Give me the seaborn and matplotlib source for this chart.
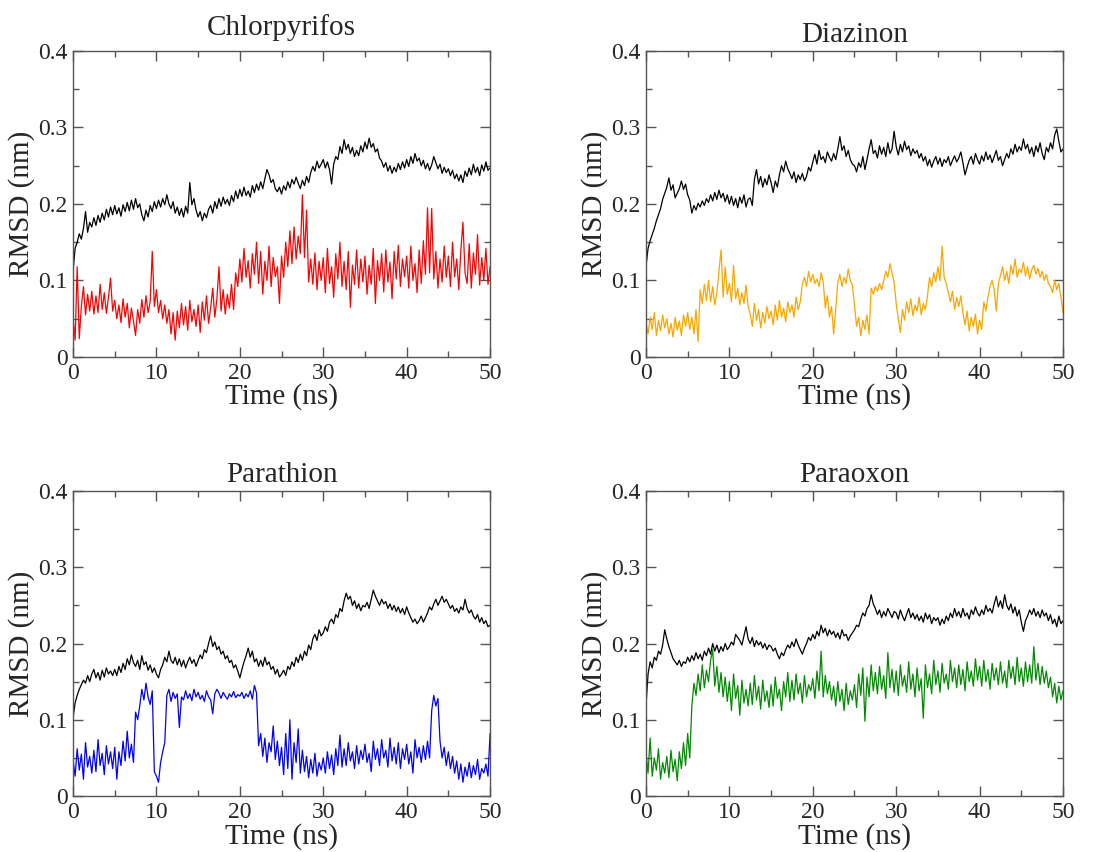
import numpy as np
import matplotlib
matplotlib.use("Agg")
import matplotlib.pyplot as plt
import seaborn as sb

# RMSD values, in units of 0.001 nm, one point every 0.25 ns (0..50 ns)
time_ns = np.linspace(0, 50, 201)

chlorpyrifos_protein = [
    112, 142, 150, 161, 154, 168, 190, 163, 176, 170,
    182, 172, 185, 176, 188, 179, 193, 183, 196, 186,
    198, 187, 195, 184, 199, 190, 202, 191, 205, 193,
    207, 195, 200, 186, 178, 192, 183, 198, 190, 203,
    194, 205, 196, 207, 199, 212, 200, 194, 203, 188,
    196, 185, 194, 183, 197, 188, 228, 199, 207, 192,
    183, 190, 178, 188, 182, 193, 198, 188, 203, 194,
    207, 197, 209, 200, 206, 198, 211, 203, 217, 207,
    219, 210, 222, 211, 217, 209, 224, 215, 226, 218,
    229, 220, 233, 245, 238, 228, 232, 220, 216, 222,
    213, 224, 218, 229, 221, 232, 226, 235, 227, 220,
    231, 224, 236, 228, 241, 249, 243, 256, 247, 252,
    258, 247, 255, 245, 226, 252, 262, 258, 275, 266,
    284, 271, 278, 266, 274, 262, 270, 263, 276, 268,
    281, 272, 286, 274, 279, 268, 272, 260, 256, 248,
    254, 243, 250, 240, 248, 242, 253, 245, 255, 247,
    258, 249, 262, 253, 266, 256, 260, 250, 257, 246,
    253, 244, 251, 262, 254, 246, 252, 240, 248, 241,
    246, 237, 244, 233, 239, 230, 238, 228, 243, 236,
    247, 238, 252, 241, 248, 237, 251, 243, 255, 244,
    247]
chlorpyrifos_ligand = [
    52, 22, 118, 24, 66, 92, 55, 82, 60, 86,
    56, 80, 58, 95, 62, 84, 57, 78, 103, 60,
    74, 50, 68, 45, 76, 52, 70, 38, 64, 47,
    28, 62, 44, 75, 52, 80, 58, 72, 138, 66,
    88, 58, 74, 50, 68, 44, 62, 30, 58, 22,
    60, 38, 70, 42, 66, 35, 74, 46, 62, 40,
    68, 32, 72, 48, 80, 44, 64, 90, 52, 76,
    118, 60, 88, 56, 82, 64, 95, 62, 110, 92,
    128, 98, 142, 104, 126, 90, 135, 108, 150, 96,
    138, 82, 125, 100, 145, 92, 130, 105, 118, 70,
    132, 104, 150, 118, 165, 122, 170, 128, 158, 135,
    212, 130, 192, 98, 128, 95, 136, 88, 125, 100,
    130, 84, 142, 96, 118, 78, 135, 102, 150, 92,
    125, 88, 138, 65, 120, 95, 140, 90, 128, 98,
    132, 82, 120, 95, 142, 70, 126, 100, 135, 85,
    140, 98, 124, 76, 138, 102, 146, 92, 128, 105,
    132, 90, 145, 100, 122, 84, 140, 96, 152, 108,
    195, 110, 194, 102, 138, 90, 128, 98, 145, 104,
    132, 92, 150, 105, 128, 88, 140, 176, 110, 96,
    148, 90, 136, 108, 160, 94, 130, 100, 142, 95,
    118]

diazinon_protein = [
    118, 142, 152, 160, 168, 178, 186, 194, 206, 214,
    222, 234, 218, 225, 208, 214, 220, 230, 219, 226,
    212, 205, 188, 198, 192, 201, 196, 204, 198, 207,
    202, 212, 204, 215, 206, 218, 208, 214, 203, 212,
    200, 210, 198, 207, 195, 209, 201, 212, 196, 206,
    208, 198, 232, 245, 226, 236, 222, 233, 225, 238,
    228, 215, 230, 222, 238, 250, 242, 256, 246, 240,
    233, 242, 228, 238, 232, 240, 230, 236, 248, 243,
    255, 265, 252, 270, 258, 262, 254, 268, 261, 256,
    266, 258, 272, 288, 270, 276, 262, 270, 258, 252,
    250, 242, 254, 248, 262, 245, 258, 272, 284, 266,
    270, 260, 276, 265, 274, 262, 280, 266, 272, 295,
    275, 264, 278, 268, 282, 271, 276, 263, 272, 266,
    270, 260, 266, 256, 262, 250, 258, 248, 256, 262,
    252, 260, 249, 258, 254, 262, 250, 257, 263, 255,
    260, 268, 254, 238, 248, 257, 262, 252, 266, 258,
    252, 263, 256, 268, 258, 264, 254, 262, 270, 257,
    262, 250, 258, 266, 260, 272, 265, 278, 268, 275,
    270, 285, 272, 278, 266, 274, 262, 276, 268, 280,
    266, 258, 274, 268, 280, 272, 290, 298, 282, 268,
    272]
diazinon_ligand = [
    45, 30, 52, 36, 58, 28, 48, 34, 55, 38,
    50, 30, 44, 26, 52, 35, 47, 28, 55, 40,
    58, 36, 52, 30, 62, 20, 88, 70, 95, 74,
    100, 72, 92, 68, 84, 112, 140, 78, 118, 82,
    96, 72, 120, 76, 90, 68, 84, 70, 94, 66,
    56, 40, 70, 48, 62, 38, 58, 44, 66, 50,
    60, 42, 68, 48, 74, 52, 64, 46, 72, 58,
    68, 52, 78, 62, 72, 96, 104, 92, 112, 98,
    108, 96, 102, 92, 110, 98, 64, 80, 52, 66,
    30, 62, 98, 108, 92, 104, 96, 115, 100, 94,
    68, 40, 52, 28, 48, 36, 55, 30, 90, 82,
    92, 86, 96, 88, 100, 112, 104, 122, 110, 98,
    70, 50, 32, 62, 48, 72, 58, 76, 54, 68,
    60, 78, 55, 70, 62, 80, 104, 92, 110, 98,
    118, 100, 145, 104, 96, 84, 72, 86, 62, 78,
    66, 80, 58, 42, 60, 34, 52, 40, 56, 30,
    48, 36, 72, 60, 78, 92, 100, 88, 60, 96,
    106, 118, 100, 112, 96, 120, 108, 128, 104, 115,
    110, 124, 106, 118, 102, 114, 120, 108, 116, 104,
    112, 100, 108, 96, 92, 84, 100, 88, 96, 78,
    58]

parathion_protein = [
    102, 122, 132, 140, 146, 152, 148, 158, 150, 160,
    166, 155, 162, 152, 165, 156, 168, 160, 164, 158,
    166, 158, 170, 162, 174, 166, 180, 172, 185, 175,
    170, 178, 166, 184, 172, 176, 165, 172, 162, 168,
    160, 155, 166, 172, 182, 176, 190, 178, 174, 182,
    172, 180, 170, 178, 168, 176, 182, 174, 179, 170,
    178, 185, 180, 192, 188, 200, 210, 196, 202, 192,
    196, 186, 190, 180, 184, 175, 178, 168, 172, 164,
    155, 166, 176, 184, 194, 182, 190, 176, 180, 170,
    178, 170, 182, 172, 176, 166, 170, 160, 166, 156,
    160, 165, 158, 170, 166, 176, 170, 182, 175, 186,
    178, 190, 184, 198, 192, 206, 212, 204, 218, 210,
    214, 222, 216, 228, 232, 226, 238, 234, 246, 242,
    256, 266, 258, 262, 250, 256, 246, 252, 243, 250,
    248, 254, 246, 258, 270, 262, 256, 250, 258, 252,
    255, 246, 252, 244, 250, 242, 248, 240, 246, 238,
    248, 240, 234, 228, 232, 226, 230, 236, 228, 234,
    240, 248, 244, 252, 258, 250, 256, 262, 254, 258,
    252, 246, 250, 242, 246, 240, 248, 244, 258, 246,
    240, 244, 236, 232, 238, 228, 234, 226, 230, 222,
    224]
parathion_ligand = [
    48, 26, 62, 34, 55, 22, 70, 38, 52, 30,
    60, 32, 74, 40, 56, 28, 66, 42, 58, 36,
    64, 22, 58, 40, 72, 46, 85, 50, 68, 44,
    110, 100, 118, 140, 126, 148, 130, 120, 138, 32,
    26, 18, 44, 58, 70, 132, 140, 124, 136, 128,
    134, 90, 130, 126, 138, 128, 134, 125, 140, 130,
    136, 127, 132, 124, 138, 130, 126, 108, 134, 140,
    135, 128, 136, 131, 127, 134, 130, 137, 129, 133,
    131, 136, 128, 134, 130, 138, 127, 145, 135, 66,
    82, 52, 76, 44, 70, 58, 92, 48, 72, 40,
    64, 28, 82, 36, 100, 22, 70, 44, 88, 30,
    60, 32, 52, 24, 48, 30, 56, 26, 44, 34,
    50, 30, 58, 36, 54, 28, 62, 40, 80, 38,
    62, 40, 70, 46, 58, 36, 66, 42, 60, 48,
    68, 44, 56, 32, 72, 48, 62, 40, 74, 50,
    60, 38, 76, 46, 64, 42, 70, 36, 62, 48,
    68, 42, 58, 30, 74, 50, 64, 44, 66, 48,
    72, 50, 112, 132, 118, 128, 72, 50, 64, 40,
    58, 36, 52, 30, 46, 22, 42, 18, 38, 26,
    44, 24, 40, 28, 48, 22, 36, 30, 42, 26,
    82]

paraoxon_protein = [
    118, 160, 176, 168, 182, 178, 190, 186, 198, 218,
    206, 196, 188, 180, 176, 172, 178, 170, 176, 174,
    182, 176, 184, 178, 188, 180, 186, 178, 190, 184,
    194, 186, 200, 190, 198, 188, 196, 190, 200, 192,
    196, 202, 198, 212, 208, 204, 198, 210, 222, 206,
    200, 208, 196, 204, 198, 202, 194, 200, 192, 198,
    196, 190, 194, 186, 180, 188, 184, 192, 198, 194,
    202, 196, 206, 198, 192, 186, 194, 200, 208, 204,
    212, 206, 216, 210, 224, 214, 220, 210, 218, 212,
    216, 208, 214, 206, 218, 210, 212, 204, 210, 214,
    218, 224, 222, 232, 240, 236, 246, 250, 264, 252,
    246, 238, 244, 234, 242, 236, 246, 240, 234, 242,
    240, 232, 244, 236, 230, 238, 246, 234, 240, 232,
    238, 230, 236, 228, 240, 232, 238, 226, 234, 230,
    234, 224, 232, 226, 236, 230, 240, 234, 246, 236,
    242, 234, 246, 236, 240, 232, 244, 238, 248, 240,
    236, 244, 238, 250, 242, 246, 240, 252, 262, 248,
    256, 246, 264, 250, 244, 252, 240, 248, 236, 244,
    228, 216, 230, 236, 244, 238, 246, 236, 242, 234,
    244, 236, 240, 230, 238, 226, 232, 222, 236, 226,
    230]
paraoxon_ligand = [
    58, 30, 76, 26, 50, 34, 62, 22, 44, 30,
    52, 24, 60, 32, 48, 20, 58, 36, 70, 40,
    82, 50, 118, 148, 132, 160, 138, 172, 142, 165,
    150, 178, 192, 144, 170, 136, 162, 130, 156, 124,
    150, 112, 160, 128, 145, 106, 152, 122, 140, 118,
    148, 120, 158, 126, 144, 114, 152, 124, 138, 116,
    146, 118, 156, 128, 140, 112, 150, 130, 162, 124,
    152, 126, 160, 134, 148, 122, 158, 130, 146, 138,
    154, 128, 164, 138, 190, 130, 158, 134, 150, 126,
    144, 118, 150, 124, 140, 112, 148, 120, 138, 126,
    146, 116, 160, 132, 168, 98, 156, 130, 172, 138,
    162, 134, 170, 140, 158, 128, 188, 142, 166, 136,
    164, 132, 172, 144, 158, 136, 176, 140, 160, 130,
    168, 138, 154, 102, 172, 142, 160, 134, 178, 146,
    164, 136, 174, 148, 160, 140, 178, 150, 168, 142,
    172, 146, 166, 138, 176, 150, 164, 144, 180, 152,
    170, 144, 178, 150, 166, 140, 174, 152, 168, 146,
    176, 148, 164, 142, 178, 154, 170, 146, 182, 150,
    168, 144, 176, 150, 172, 148, 196, 152, 174, 146,
    170, 148, 164, 142, 156, 130, 148, 122, 144, 126,
    138]

titles = ['Chlorpyrifos', 'Diazinon', 'Parathion', 'Paraoxon']
ligand_colors = ['#ff0000', '#ffa500', '#0000ff', '#008b00']
protein_series = [chlorpyrifos_protein, diazinon_protein, parathion_protein, paraoxon_protein]
ligand_series = [chlorpyrifos_ligand, diazinon_ligand, parathion_ligand, paraoxon_ligand]

sb.set_theme(style='ticks')
plt.rcParams['font.family'] = ['Liberation Serif', 'DejaVu Serif']

fig = plt.figure(figsize=(11.08, 8.52), dpi=100)

# axes boxes in figure fractions: [left, bottom, width, height]
boxes = [
    [0.0659, 0.581, 0.3764, 0.3592],
    [0.583, 0.581, 0.3764, 0.3592],
    [0.0659, 0.0657, 0.3764, 0.3580],
    [0.583, 0.0657, 0.3764, 0.3580],
]
title_pads = [11.5, 6.5, 6.5, 6.5]

for i in range(4):
    ax = fig.add_axes(boxes[i])
    sb.lineplot(x=time_ns, y=np.array(protein_series[i]) / 1000.0, ax=ax,
                color='black', linewidth=0.9, estimator=None)
    sb.lineplot(x=time_ns, y=np.array(ligand_series[i]) / 1000.0, ax=ax,
                color=ligand_colors[i], linewidth=0.9, estimator=None)

    ax.set_xlim(0, 50)
    ax.set_ylim(0, 0.4)
    ax.set_xticks([0, 10, 20, 30, 40, 50])
    ax.set_xticks([5, 15, 25, 35, 45], minor=True)
    ax.set_yticks([0, 0.1, 0.2, 0.3, 0.4])
    ax.set_yticklabels(['0', '0.1', '0.2', '0.3', '0.4'])
    ax.set_yticks([0.05, 0.15, 0.25, 0.35], minor=True)

    ax.tick_params(which='both', direction='in', top=True, right=True,
                   color='#555555', width=1.0)
    ax.tick_params(which='major', length=7, labelsize=17, pad=4)
    ax.tick_params(which='minor', length=4)
    for s in ax.spines.values():
        s.set_color('#555555')
        s.set_linewidth(1.0)

    ax.set_xlabel('Time (ns)', fontsize=21, labelpad=0)
    ax.set_ylabel('RMSD (nm)', fontsize=21, labelpad=2)
    ax.set_title(titles[i], fontsize=21, pad=title_pads[i])

fig.savefig('out.png', dpi=100)
